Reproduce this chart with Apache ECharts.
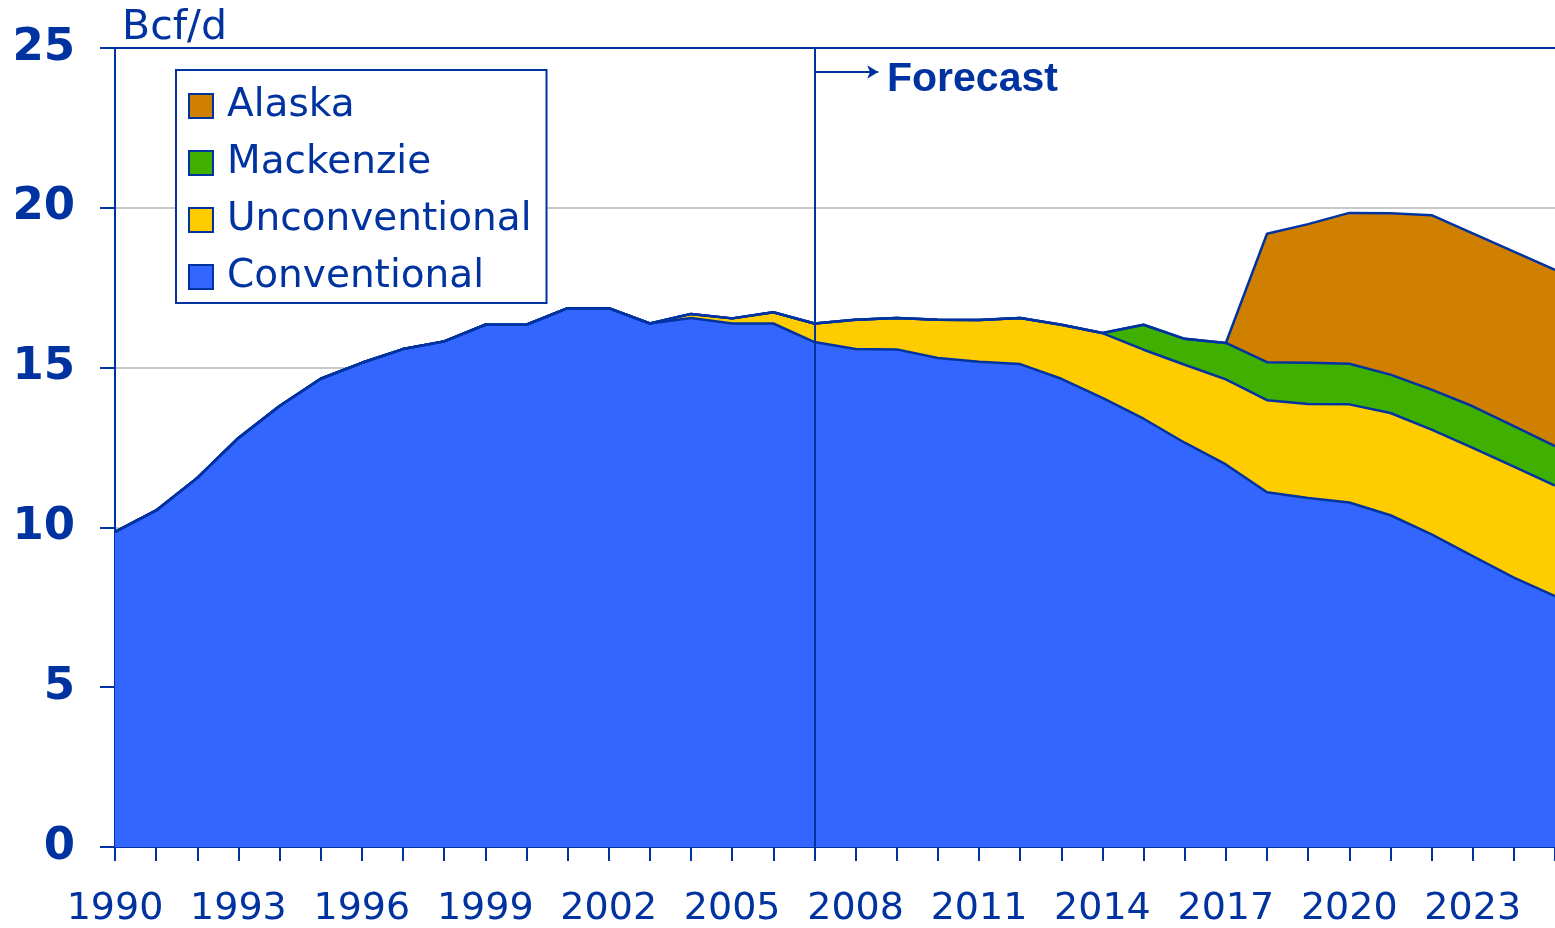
<!DOCTYPE html>
<html>
<head>
<meta charset="utf-8">
<style>html,body{margin:0;padding:0;background:#fff}#c{width:1555px;height:928px}</style>
<script src="https://cdn.jsdelivr.net/npm/echarts@6/dist/echarts.min.js"></script>
</head>
<body>
<div id="c"></div>
<script>
const years = ['1990','1991','1992','1993','1994','1995','1996','1997','1998','1999','2000','2001','2002','2003','2004','2005','2006','2007','2008','2009','2010','2011','2012','2013','2014','2015','2016','2017','2018','2019','2020','2021','2022','2023','2024','2025'];
const conventional = [9.86,10.53,11.55,12.8,13.8,14.65,15.15,15.58,15.82,16.34,16.34,16.86,16.86,16.38,16.55,16.38,16.38,15.8,15.58,15.57,15.3,15.18,15.11,14.65,14.05,13.4,12.65,11.97,11.1,10.92,10.78,10.38,9.78,9.1,8.43,7.85];
const unconventional = [0,0,0,0,0,0,0,0,0,0,0,0,0,0,0.13,0.16,0.35,0.58,0.92,0.98,1.2,1.31,1.44,1.69,2.03,2.16,2.44,2.66,2.88,2.94,3.07,3.2,3.28,3.39,3.47,3.46];
const mackenzie = [0,0,0,0,0,0,0,0,0,0,0,0,0,0,0,0,0,0,0,0,0,0,0,0,0,0.78,0.81,1.14,1.19,1.29,1.27,1.2,1.25,1.3,1.27,1.23];
const alaska = [0,0,0,0,0,0,0,0,0,0,0,0,0,0,0,0,0,0,0,0,0,0,0,0,0,0,0,0,4.02,4.34,4.72,5.05,5.46,5.41,5.46,5.52];
const seriesNames = ['Conventional','Unconventional','Mackenzie','Alaska'];
const legendOrder = ['Alaska','Mackenzie','Unconventional','Conventional'];
const forecastYear = '2007';
const forecastLabel = 'Forecast';
const unitLabel = 'Bcf/d';

const INK = '#0033a0';
const colors = {Conventional:'#3366ff', Unconventional:'#ffcc00', Mackenzie:'#40b000', Alaska:'#d08000'};
const values = {Conventional:conventional, Unconventional:unconventional, Mackenzie:mackenzie, Alaska:alaska};

const chart = echarts.init(document.getElementById('c'), null, {renderer:'canvas'});
const fYear = Number(forecastYear);

const series = seriesNames.map((name, k) => {
  const s = {
    name: name,
    type: 'line',
    stack: 'total',
    symbol: 'none',
    itemStyle: {color: colors[name]},
    lineStyle: {color: INK, width: 2.5},
    areaStyle: {color: colors[name], opacity: 1},
    data: values[name],
    animation: false
  };
  if (k === 0) {
    s.markLine = {
      silent: true,
      animation: false,
      symbol: ['none','none'],
      label: {show: false},
      lineStyle: {color: INK, width: 2, type: 'solid'},
      data: [{xAxis: forecastYear}]
    };
  }
  return s;
});

// annotation arrow on a hidden numeric year axis
series.push({
  name: 'forecast-arrow',
  type: 'line',
  xAxisIndex: 1,
  symbol: 'none',
  lineStyle: {opacity: 0},
  data: [],
  animation: false,
  z: 10,
  markLine: {
    silent: true,
    animation: false,
    symbol: ['none','arrow'],
    symbolSize: [10, 11],
    label: {show: false},
    lineStyle: {color: INK, width: 2, type: 'solid'},
    data: [[{coord: [fYear, 24.25]}, {coord: [fYear + 1.55, 24.25]}]]
  }
});

chart.setOption({
  backgroundColor: '#fff',
  textStyle: {fontFamily: 'DejaVu Sans', color: INK},
  grid: {left: 115, right: 0, top: 48, bottom: 80, containLabel: false},
  legend: {
    data: legendOrder,
    orient: 'vertical',
    left: 176, top: 70,
    icon: 'rect',
    itemWidth: 24, itemHeight: 24,
    itemGap: 17,
    padding: [16, 15, 6, 12],
    backgroundColor: '#fff',
    borderColor: INK, borderWidth: 2,
    itemStyle: {borderColor: INK, borderWidth: 2},
    textStyle: {fontFamily: 'DejaVu Sans', fontSize: 39, color: INK, lineHeight: 40, padding: [0,0,0,9]},
    selectedMode: false
  },
  xAxis: [{
    type: 'category',
    data: years,
    boundaryGap: false,
    axisLine: {show: true, lineStyle: {color: INK, width: 2}},
    axisTick: {show: true, interval: 0, length: 14, lineStyle: {color: INK, width: 2}},
    splitLine: {show: false},
    axisLabel: {fontFamily: 'DejaVu Sans', fontSize: 38, color: INK, margin: 43, interval: 2}
  }, {
    type: 'value',
    min: Number(years[0]), max: Number(years[years.length - 1]),
    show: false
  }],
  yAxis: {
    type: 'value',
    min: 0, max: 25, interval: 5,
    name: unitLabel,
    nameLocation: 'end',
    nameGap: -1,
    nameTextStyle: {fontFamily: 'DejaVu Sans', fontSize: 41, color: INK, align: 'left', verticalAlign: 'bottom', padding: [0,0,0,7]},
    axisLine: {show: true, lineStyle: {color: INK, width: 2}},
    axisTick: {show: true, length: 15, lineStyle: {color: INK, width: 2}},
    splitLine: {show: true, lineStyle: {color: ['#c8c8c8','#c8c8c8','#c8c8c8','#c8c8c8','#c8c8c8',INK], width: 2}},
    axisLabel: {fontFamily: 'DejaVu Sans', fontWeight: 'bold', fontSize: 45, color: INK, margin: 40}
  },
  graphic: [{
    type: 'text', left: 887, top: 59, z: 100,
    style: {text: forecastLabel, fontFamily: 'Liberation Sans', fontWeight: 'bold', fontSize: 41, fill: INK}
  }],
  series: series
});
</script>
</body>
</html>
